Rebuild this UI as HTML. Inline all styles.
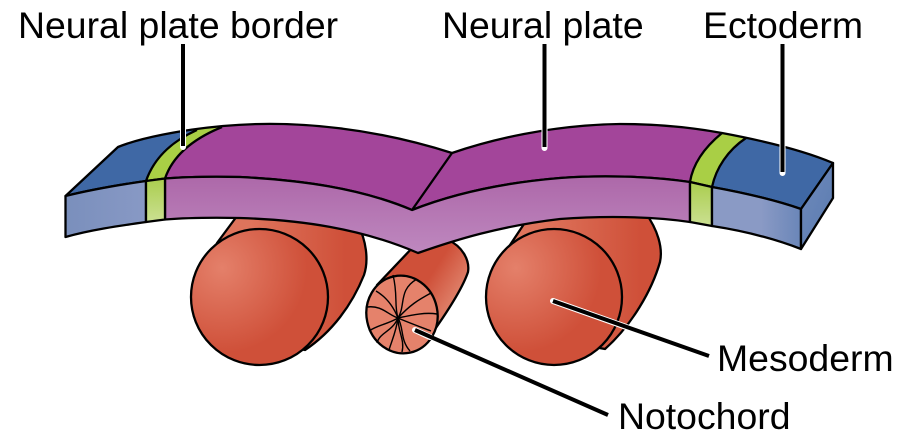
<!DOCTYPE html>
<html><head><meta charset="utf-8"><style>
html,body{margin:0;padding:0;background:#fff;width:902px;height:443px;overflow:hidden}
svg{display:block}
text{font-family:"Liberation Sans",Arial,sans-serif;font-size:37.4px;fill:#000}
</style></head><body>
<svg width="902" height="443" viewBox="0 0 902 443" xmlns="http://www.w3.org/2000/svg">
<defs>
<radialGradient id="r1" gradientUnits="userSpaceOnUse" cx="222" cy="268" r="85"><stop offset="0" stop-color="#e4806a"/><stop offset="1" stop-color="#cf5039"/></radialGradient>
<radialGradient id="r2" gradientUnits="userSpaceOnUse" cx="516" cy="268" r="85"><stop offset="0" stop-color="#e4806a"/><stop offset="1" stop-color="#cf5039"/></radialGradient>
<linearGradient id="b1" gradientUnits="userSpaceOnUse" x1="250" y1="240" x2="345" y2="240"><stop offset="0" stop-color="#de745c"/><stop offset="1" stop-color="#cf5039"/></linearGradient>
<linearGradient id="b2" gradientUnits="userSpaceOnUse" x1="540" y1="240" x2="640" y2="240"><stop offset="0" stop-color="#de745c"/><stop offset="1" stop-color="#cf5039"/></linearGradient>
<linearGradient id="b3" gradientUnits="userSpaceOnUse" x1="395" y1="265" x2="450" y2="300"><stop offset="0" stop-color="#cf5039"/><stop offset=".55" stop-color="#cf5039"/><stop offset="1" stop-color="#dd7a63"/></linearGradient>
<linearGradient id="pf" x1="0" y1="0" x2="0" y2="1"><stop offset="0" stop-color="#ad68a9"/><stop offset="1" stop-color="#be88bf"/></linearGradient>
<linearGradient id="gf" x1="0" y1="0" x2="0" y2="1"><stop offset="0" stop-color="#aacd4e"/><stop offset="1" stop-color="#cbe092"/></linearGradient>
<linearGradient id="bl" x1="0" y1="0" x2="1" y2="0"><stop offset="0" stop-color="#7a8fbc"/><stop offset="1" stop-color="#8899c5"/></linearGradient>
<linearGradient id="br" x1="0" y1="0" x2="1" y2="0"><stop offset="0" stop-color="#8a9ac5"/><stop offset=".55" stop-color="#8a9ac5"/><stop offset="1" stop-color="#6a86b8"/></linearGradient>
<linearGradient id="bs" x1="0" y1="0" x2="1" y2="1"><stop offset="0" stop-color="#6f8abb"/><stop offset="1" stop-color="#5a7bb0"/></linearGradient>
<clipPath id="topclip"><path d="M65.500 196 L118 147 C140 138 180 130 223 126 C300 119 380 130 452 153 C490 140 550 125 620 124 C660 124 695 128 722 133 C765 141 805 151 833 163 L801 209 C775 200 745 193 712 187 L690 182 C650 176 600 175 560 178 C500 183 450 195 412 210 C360 188 300 180 240 177 C215 176.500 190 176.500 165 178.500 L146 181 C118 185 90 190 65.500 196 Z"/></clipPath>
</defs>

<g stroke="#000" stroke-width="2.300" stroke-linejoin="round">
<!-- left mesoderm -->
<path d="M217 243 L240 212 L358 225 C366 240 369 260 364 275 C352 305 332 332 305 350 L260 340 Z" fill="url(#b1)"/>
<ellipse cx="259.500" cy="297" rx="68.500" ry="68" fill="url(#r1)"/>
<!-- right mesoderm -->
<path d="M510 245 L530 215 L645 212 C658 230 663 248 660 262 C652 290 632 325 605 349 L555 340 Z" fill="url(#b2)"/>
<ellipse cx="554" cy="297" rx="68" ry="68" fill="url(#r2)"/>
<!-- notochord -->
<path d="M377 285 L415 245 L448 240 C462 246 470 260 468 272 C462 290 445 315 433 332 L400 320 Z" fill="url(#b3)"/>
<ellipse cx="402" cy="314.500" rx="35.500" ry="39" fill="#e5826b" transform="rotate(-12 402 314.500)"/>
<g fill="none" stroke-width="1.4">
<path d="M398 318 C394 305 398 295 393 275"/>
<path d="M398 318 C406 305 398 290 417 279"/>
<path d="M398 318 C410 305 418 300 431 293"/>
<path d="M398 318 C412 315 425 312 437 314"/>
<path d="M398 318 C407 322 418 326 431 331"/>
<path d="M398 318 C404 328 400 340 410 351"/>
<path d="M398 318 C398 332 405 340 402 352"/>
<path d="M398 318 C396 332 392 340 389 350"/>
<path d="M398 318 C392 332 380 332 377 343"/>
<path d="M398 318 C388 324 378 325 369 331"/>
<path d="M398 318 C388 315 382 305 367 307"/>
<path d="M398 318 C394 308 388 298 376 291"/>
</g>

<!-- plate top -->
<g clip-path="url(#topclip)" stroke="none">
<rect x="60" y="100" width="780" height="115" fill="#a3459a"/>
<path d="M146 181 C155 155 175 140 197 130 L200 100 L50 100 L50 200 Z" fill="#3f68a5"/>
<path d="M746 138 C728 150 716 168 712 187 L790 230 L850 230 L850 100 L760 100 Z" fill="#3f68a5"/>
<path d="M146 181 C155 155 175 140 197 130 L200 120 L235 120 L222 127 C190 140 172 158 165 178.500 L160 195 Z" fill="#a9cf45"/>
<path d="M722 133 C705 147 693 163 690 182 L712 187 C716 168 728 150 746 138 L730 125 Z" fill="#a9cf45"/>
</g>
<path d="M65.500 196 L118 147 C140 138 180 130 223 126 C300 119 380 130 452 153 C490 140 550 125 620 124 C660 124 695 128 722 133 C765 141 805 151 833 163 L801 209 C775 200 745 193 712 187 L690 182 C650 176 600 175 560 178 C500 183 450 195 412 210 C360 188 300 180 240 177 C215 176.500 190 176.500 165 178.500 L146 181 C118 185 90 190 65.500 196 Z" fill="none"/>
<path d="M146 181 C155 155 175 140 197 130 M165 178.500 C172 158 190 140 222 127 M690 182 C693 163 705 147 722 133 M712 187 C716 168 728 150 746 138 M412 210 L452 153" fill="none"/>

<!-- plate front -->
<path d="M165 178.500 C190 176.500 215 176.500 240 177 C300 180 360 188 412 210 C450 195 500 183 560 178 C600 175 650 176 690 182 L690 222 C650 216 600 216 560 219 C500 226 455 240 418 253 C360 228 300 220 240 218 C215 217.500 190 217.500 165 219.500 Z" fill="url(#pf)"/>
<path d="M65.500 196 C90 190 118 185 146 181 L146 222 C118 226 90 230 65.500 237 Z" fill="url(#bl)"/>
<path d="M146 181 L165 178.500 L165 219.500 L146 222 Z" fill="url(#gf)"/>
<path d="M690 182 L712 187 L712 226 L690 222 Z" fill="url(#gf)"/>
<path d="M712 187 C745 193 775 200 801 209 L801 249 C775 239 745 231 712 226 Z" fill="url(#br)"/>
<path d="M801 209 L833 163 L833 198 L801 249 Z" fill="url(#bs)"/>
</g>

<!-- leaders -->
<g stroke-linecap="round" fill="none">
<path d="M183 125 V147 M544.500 125 V148 M782.500 140 V173" stroke="#fff" stroke-width="6"/>
<path d="M553 301 L660 339 M415 330 L430 337" stroke="#fff" stroke-width="6"/>
</g>
<g stroke="#000" stroke-width="4" fill="none">
<path d="M183 44 V146 M544.500 44 V147 M782.500 44 V172 M553 301 L709 356 M415 330 L608 415"/>
</g>

<text x="18" y="38">Neural plate border</text>
<text x="442" y="38">Neural plate</text>
<text x="703" y="38">Ectoderm</text>
<text x="717" y="371">Mesoderm</text>
<text x="618" y="429">Notochord</text>
</svg>
</body></html>
